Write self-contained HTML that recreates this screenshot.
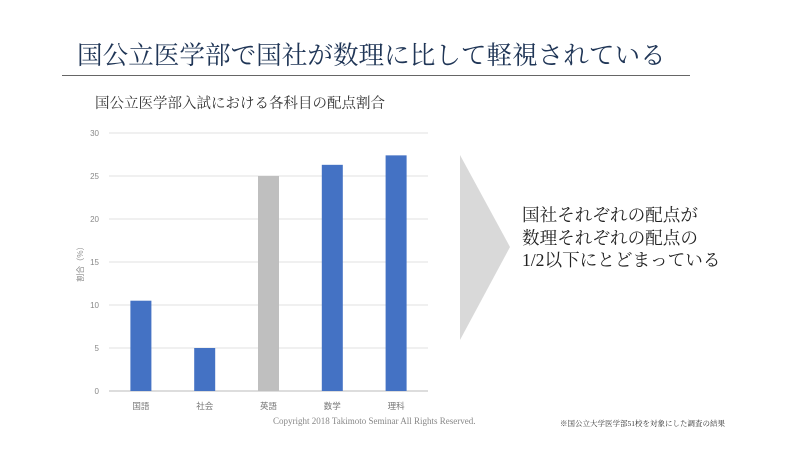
<!DOCTYPE html>
<html><head><meta charset="utf-8"><style>
body{margin:0;width:800px;height:456px;background:#fff;position:relative;overflow:hidden;font-family:"Liberation Serif","Noto Serif CJK SC",serif;}
.abs{position:absolute;white-space:nowrap;}
</style></head><body>
<div class="abs" style="left:77px;top:36px;font-size:25.6px;color:#1f3556;">国公立医学部で国社が数理に比して軽視されている</div>
<div class="abs" style="left:62px;top:75px;width:628px;height:1px;background:#666;"></div>
<div class="abs" style="left:95px;top:92px;font-size:14.5px;color:#333;">国公立医学部入試における各科目の配点割合</div>
<svg class="abs" style="left:0;top:0" width="800" height="456" id="chart"></svg>
<svg class="abs" style="left:0;top:0" width="800" height="456"><polygon points="460,155 510,247 460,340" fill="#d9d9d9"/></svg>
<div class="abs" style="left:522px;top:204px;font-size:17.6px;line-height:22.5px;color:#222;">国社それぞれの配点が<br>数理それぞれの配点の<br>1/2以下にとどまっている</div>
<div class="abs" style="left:273px;top:416px;font-size:9px;color:#888;">Copyright 2018 Takimoto Seminar All Rights Reserved.</div>
<div class="abs" style="left:560px;top:418px;font-size:7.5px;color:#333;">※国公立大学医学部51校を対象にした調査の結果</div>
<script>
const categories=["国語","社会","英語","数学","理科"];
const values=[10.5,5.0,25.0,26.3,27.4];
const colors=["#4472c4","#4472c4","#bfbfbf","#4472c4","#4472c4"];
const ticks=[0,5,10,15,20,25,30];
const svg=document.getElementById('chart'),NS='http://www.w3.org/2000/svg';
const x0=109,x1=428,y0=391,yTop=133,yMax=30;
const y=v=>y0-(v/yMax)*(y0-yTop);
const band=(x1-x0)/categories.length;
const xc=i=>x0+band*(i+0.5);
function mk(t,a){const e=document.createElementNS(NS,t);for(const k in a)e.setAttribute(k,a[k]);svg.appendChild(e);return e;}
ticks.forEach(t=>{
 const l=mk('line',{x1:x0,x2:x1,y1:y(t),y2:y(t),stroke:t===0?'#bbb':'#e0e0e0','stroke-width':1});
 
 
 const tx=mk('text',{x:99,y:y(t)+3,'text-anchor':'end','font-size':8,fill:'#888','font-family':'Liberation Sans, sans-serif'});
 tx.textContent=t;
 
 
});
categories.forEach((c,i)=>{
 const b=mk('rect',{x:xc(i)-10.5,y:y(values[i]),width:21,height:y0-y(values[i]),fill:colors[i]});
 
 
 const tx=mk('text',{x:xc(i),y:409,'text-anchor':'middle','font-size':8.5,fill:'#777','font-family':'Noto Sans CJK JP, sans-serif'});
 tx.textContent=c;
 
 
});
const yt=mk('text',{x:0,y:0,transform:'translate(83,262) rotate(-90)','text-anchor':'middle','font-size':8,fill:'#888','font-family':'Noto Sans CJK JP, sans-serif'});
yt.textContent='割合（%）';


</script>
</body></html>
